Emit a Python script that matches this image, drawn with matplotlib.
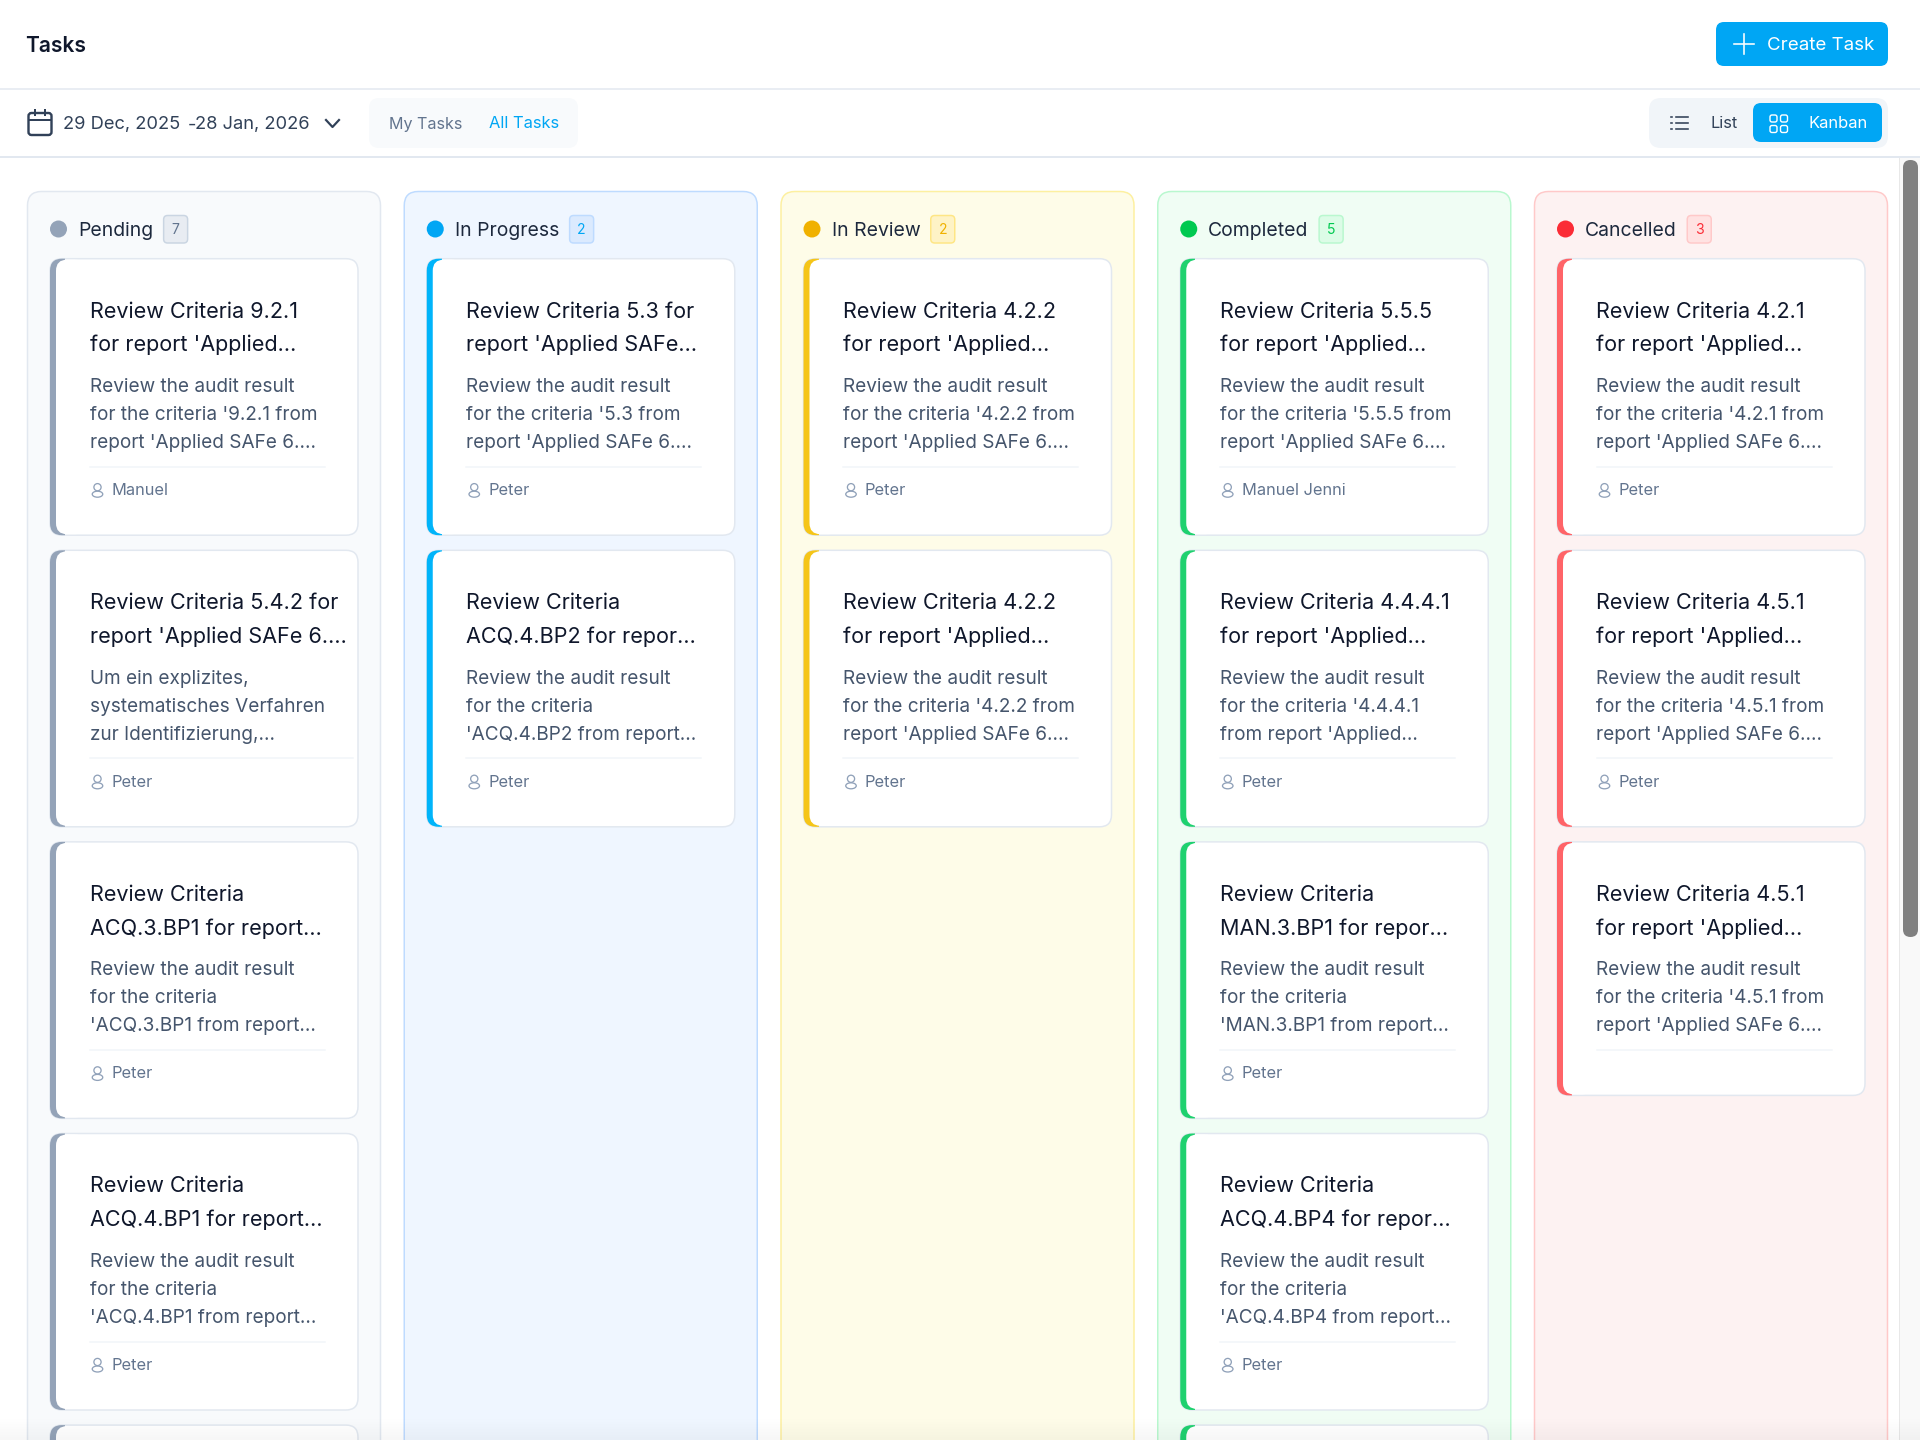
import numpy as np
import matplotlib
matplotlib.use("Agg")
import matplotlib.pyplot as plt
from matplotlib.patches import FancyBboxPatch, Rectangle, Circle, Ellipse

plt.rcParams['font.family'] = ['Inter', 'DejaVu Sans']

# ---- content -------------------------------------------------------------
page_title = "Tasks"
create_label = "Create Task"
date_start = "29 Dec, 2025"
date_sep = "-"
date_end = "28 Jan, 2026"
tab_labels = ["My Tasks", "All Tasks"]
view_labels = ["List", "Kanban"]

statuses = ["Pending", "In Progress", "In Review", "Completed", "Cancelled"]
counts = [7, 2, 2, 5, 3]

pending_titles = [("Review Criteria 9.2.1", "for report 'Applied..."),
                  ("Review Criteria 5.4.2 for", "report 'Applied SAFe 6...."),
                  ("Review Criteria", "ACQ.3.BP1 for report..."),
                  ("Review Criteria", "ACQ.4.BP1 for report..."),
                  ("", "")]
pending_desc = [("Review the audit result", "for the criteria '9.2.1 from", "report 'Applied SAFe 6...."),
                ("Um ein explizites,", "systematisches Verfahren", "zur Identifizierung,..."),
                ("Review the audit result", "for the criteria", "'ACQ.3.BP1 from report..."),
                ("Review the audit result", "for the criteria", "'ACQ.4.BP1 from report..."),
                ("", "", "")]
pending_people = ["Manuel", "Peter", "Peter", "Peter", ""]

progress_titles = [("Review Criteria 5.3 for", "report 'Applied SAFe..."),
                   ("Review Criteria", "ACQ.4.BP2 for repor...")]
progress_desc = [("Review the audit result", "for the criteria '5.3 from", "report 'Applied SAFe 6...."),
                 ("Review the audit result", "for the criteria", "'ACQ.4.BP2 from report...")]
progress_people = ["Peter", "Peter"]

review_titles = [("Review Criteria 4.2.2", "for report 'Applied..."),
                 ("Review Criteria 4.2.2", "for report 'Applied...")]
review_desc = [("Review the audit result", "for the criteria '4.2.2 from", "report 'Applied SAFe 6...."),
               ("Review the audit result", "for the criteria '4.2.2 from", "report 'Applied SAFe 6....")]
review_people = ["Peter", "Peter"]

completed_titles = [("Review Criteria 5.5.5", "for report 'Applied..."),
                    ("Review Criteria 4.4.4.1", "for report 'Applied..."),
                    ("Review Criteria", "MAN.3.BP1 for repor..."),
                    ("Review Criteria", "ACQ.4.BP4 for repor..."),
                    ("", "")]
completed_desc = [("Review the audit result", "for the criteria '5.5.5 from", "report 'Applied SAFe 6...."),
                  ("Review the audit result", "for the criteria '4.4.4.1", "from report 'Applied..."),
                  ("Review the audit result", "for the criteria", "'MAN.3.BP1 from report..."),
                  ("Review the audit result", "for the criteria", "'ACQ.4.BP4 from report..."),
                  ("", "", "")]
completed_people = ["Manuel Jenni", "Peter", "Peter", "Peter", ""]

cancelled_titles = [("Review Criteria 4.2.1", "for report 'Applied..."),
                    ("Review Criteria 4.5.1", "for report 'Applied..."),
                    ("Review Criteria 4.5.1", "for report 'Applied...")]
cancelled_desc = [("Review the audit result", "for the criteria '4.2.1 from", "report 'Applied SAFe 6...."),
                  ("Review the audit result", "for the criteria '4.5.1 from", "report 'Applied SAFe 6...."),
                  ("Review the audit result", "for the criteria '4.5.1 from", "report 'Applied SAFe 6....")]
cancelled_people = ["Peter", "Peter", ""]

all_titles = [pending_titles, progress_titles, review_titles, completed_titles, cancelled_titles]
all_desc = [pending_desc, progress_desc, review_desc, completed_desc, cancelled_desc]
all_people = [pending_people, progress_people, review_people, completed_people, cancelled_people]

# ---- palette ---------------------------------------------------------------
accent = ["#94a3b8", "#00a6f4", "#f0b100", "#00c950", "#fb2c36"]
bar_accent = ["#94a3b8", "#00b4fa", "#f5c518", "#1fd16f", "#ff6468"]
col_bg = ["#f8fafc", "#eff6ff", "#fefce8", "#f0fdf4", "#fdf2f2"]
col_edge = ["#e2e8f0", "#bedbff", "#fdf0a0", "#b9f8cf", "#ffc9c9"]
badge_bg = ["#e8ecf2", "#dbeafe", "#fef3c6", "#dcfce7", "#ffe2e2"]
badge_edge = ["#cad5e2", "#bedbff", "#fee685", "#b9f8cf", "#ffc9c9"]
badge_fg = ["#62748e", "#00a6f4", "#f0b100", "#00c950", "#fb2c36"]
INK = "#0f172b"
BLUE = "#00a6f4"

# ---- canvas in reference pixels -------------------------------------------
W, H = 1920, 1440
fig = plt.figure(figsize=(W / 100, H / 100), dpi=100, facecolor="white")
ax = fig.add_axes([0, 0, 1, 1])
ax.set_xlim(0, W)
ax.set_ylim(H, 0)
ax.axis("off")
px = 0.72  # points per pixel


def rrect(x, y, w, h, r, fc="none", ec="none", lw=0, z=1):
    p = FancyBboxPatch((x + r, y + r), w - 2 * r, h - 2 * r,
                       boxstyle=f"round,pad={r},rounding_size={r}",
                       fc=fc, ec=ec, lw=lw * px, zorder=z)
    ax.add_patch(p)
    return p


def label(x, y, s, size, color, weight="normal", ha="left", z=6):
    return ax.text(x, y, s, fontsize=size * px, color=color, fontweight=weight,
                   ha=ha, va="center_baseline", zorder=z)


# ---- top bars --------------------------------------------------------------
ax.plot([0, W], [88.7, 88.7], color="#e2e8f0", lw=1.5 * px, zorder=2)
ax.plot([0, W], [156.7, 156.7], color="#e2e8f0", lw=2 * px, zorder=2)

label(25.5, 44, page_title, 21, INK, weight="semibold")

rrect(1716, 22, 172, 44, 8, fc=BLUE)
ax.plot([1734, 1754], [44, 44], color="white", lw=1.6 * px, zorder=6)
ax.plot([1744, 1744], [34, 54], color="white", lw=1.6 * px, zorder=6)
label(1767, 44, create_label, 18.7, "white")

# date range
rrect(28.5, 113, 23, 22, 3, ec="#314158", lw=2.4, z=4)
ax.plot([29, 51], [120, 120], color="#314158", lw=2 * px, zorder=4)
for xt in (35, 45):
    ax.plot([xt, xt], [110, 115], color="#314158", lw=2 * px, zorder=4)
label(63, 123, date_start, 18.3, "#314158")
label(187.5, 123, date_sep, 18.3, "#314158")
label(195, 123, date_end, 18.3, "#314158")
ax.plot([326, 332.5, 339], [120, 127, 120], color="#314158", lw=2.2 * px, zorder=4)

# tabs
rrect(369, 98, 209, 50, 10, fc="#f8fafc")
label(389, 122.5, tab_labels[0], 16.1, "#62748e")
label(489, 122.5, tab_labels[1], 16.5, BLUE)

# view switch
rrect(1649, 98, 239, 50, 12, fc="#f1f5f9")
rrect(1753, 103, 129, 39, 8, fc=BLUE, z=2)
for yr in (117, 123, 129):
    ax.plot([1670.5, 1672], [yr, yr], color="#314158", lw=1.6 * px, zorder=4)
    ax.plot([1676, 1688], [yr, yr], color="#314158", lw=1.6 * px, zorder=4)
label(1711, 122.5, view_labels[0], 16.5, "#314158")
for xg in (1770, 1780.5):
    for yg in (115, 125.5):
        rrect(xg, yg, 7, 7, 2, ec="white", lw=1.4, z=4)
label(1809, 122.5, view_labels[1], 16.5, "white")

# scrollbar
ax.add_patch(Rectangle((1899, 157.5), 21, H - 157.5, fc="#f9f9f9", ec="none", zorder=1))
ax.plot([1899, 1899], [157.5, H], color="#e8e8e8", lw=1 * px, zorder=1)
rrect(1903, 160, 15, 777, 7.5, fc="#808080", z=3)

# ---- columns ---------------------------------------------------------------
COL_X = 27.5 + 376.75 * np.arange(len(statuses))
COL_W = 353
COL_TOP = 191.5
CARD_DX, CARD_W = 22.5, 308
CARD_TOP, CARD_STEP, CARD_H = 258.7, 291.6, 276.5

renderer = fig.canvas.get_renderer()
inv = ax.transData.inverted()

for c, name in enumerate(statuses):
    x0 = COL_X[c]
    rrect(x0, COL_TOP, COL_W, H + 60 - COL_TOP, 14, fc=col_bg[c], ec=col_edge[c], lw=1.5, z=1)
    ax.add_patch(Circle((x0 + 31, 229), 8.5, fc=accent[c], ec="none", zorder=4))
    t = label(x0 + 50.5, 229, name, 19.4, "#1d293d")
    bb = t.get_window_extent(renderer)
    bx = inv.transform((bb.x1, bb.y0))[0] + 10.5
    rrect(bx, 215.5, 24, 27.5, 4, fc=badge_bg[c], ec=badge_edge[c], lw=1.5, z=4)
    label(bx + 12, 229, str(counts[c]), 14, badge_fg[c], ha="center")

    for i, (title, desc, who) in enumerate(zip(all_titles[c], all_desc[c], all_people[c])):
        cx = x0 + CARD_DX
        cy = CARD_TOP + CARD_STEP * i
        h = CARD_H if who or not title[0] else 253.5
        outer = rrect(cx, cy, CARD_W, h, 12, fc="white", ec="#e2e8f0", lw=1.5, z=3)
        bar = Rectangle((cx - 1, cy - 1), 16, h + 2, fc=bar_accent[c], ec="none", zorder=4)
        ax.add_patch(bar)
        bar.set_clip_path(outer.get_path(), outer.get_transform())
        rrect(cx + 6, cy + 1, 30, h - 2, 11, fc="white", z=5)
        if not title[0]:
            continue
        tx = cx + 39.5
        label(tx, cy + 51, title[0], 21.6, INK)
        label(tx, cy + 84.5, title[1], 21.6, INK)
        for j, line in enumerate(desc):
            label(tx, cy + 126.5 + 28 * j, line, 19.0, "#45556c")
        dw = 263 if len(title[0]) > 24 else 235
        ax.plot([tx, tx + dw], [cy + 208, cy + 208], color="#f1f5f9", lw=1.5 * px, zorder=6)
        if who:
            ax.add_patch(Circle((tx + 8, cy + 228.5), 3.6, fc="none", ec="#90a1b9", lw=1.3 * px, zorder=6))
            ax.add_patch(Ellipse((tx + 8, cy + 235.5), 10.5, 6, fc="none", ec="#90a1b9", lw=1.3 * px, zorder=6))
            label(tx + 22, cy + 230.5, who, 16.4, "#62748e")

# bottom fade
fade = np.zeros((24, 1, 4))
fade[..., 3] = np.linspace(0, 0.035, 24)[:, None]
ax.imshow(fade, extent=(0, W, H, H - 24), aspect="auto", zorder=20, interpolation="bilinear")
ax.set_xlim(0, W)
ax.set_ylim(H, 0)

fig.savefig("out.png", dpi=100, facecolor="white")
